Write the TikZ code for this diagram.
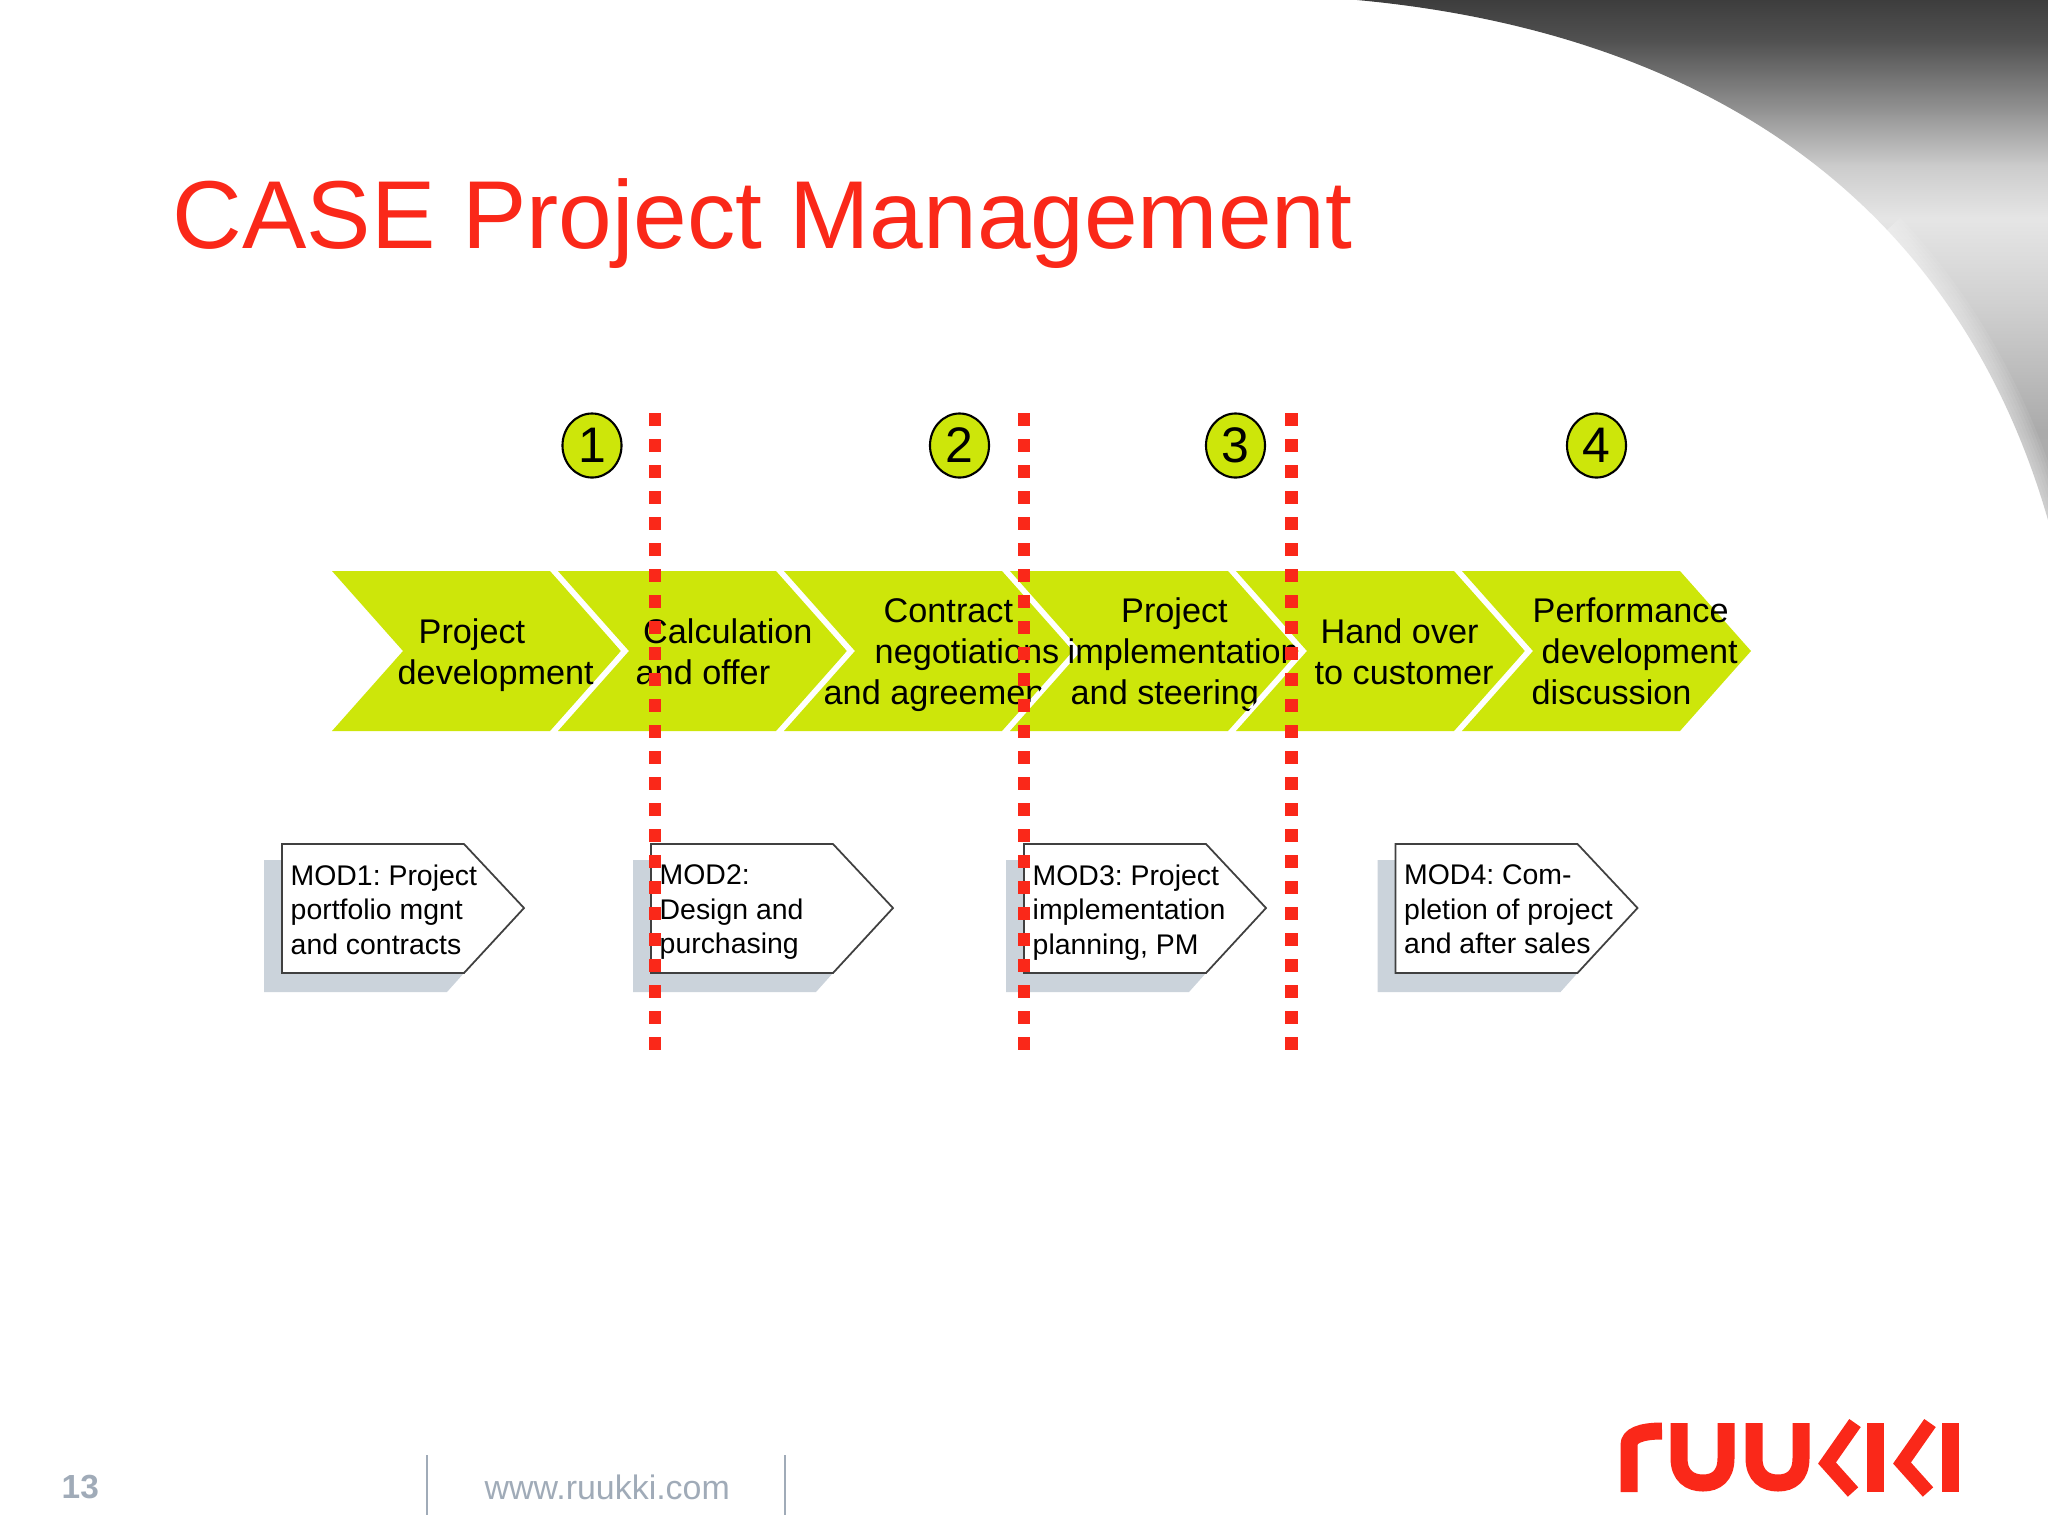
\documentclass[tikz,border=0pt]{standalone}
\usepackage{fontspec}
\setmainfont{Liberation Sans}
\usetikzlibrary{positioning,shapes.geometric}
\definecolor{limefill}{RGB}{205,230,10}
\definecolor{cutred}{RGB}{250,40,25}
\definecolor{shadowgrey}{RGB}{203,211,219}
\definecolor{footgrey}{RGB}{160,171,184}
\pgfdeclareverticalshading{swoosh}{100bp}{color(0bp)=(black!30);color(25bp)=(black!30);color(33.6bp)=(black!33);color(46bp)=(black!18);color(54bp)=(black!10);color(59bp)=(black!20);color(65bp)=(black!45);color(71bp)=(black!68);color(75bp)=(black!76);color(100bp)=(black!76)}
\frenchspacing
\begin{document}
\begin{tikzpicture}[x=0.01cm, y=-0.01cm]
        \tikzstyle{chevron} = [fill=limefill]
        \tikzstyle{chevron gap} = [draw=white, line width=0.06cm, line join=miter]
        \tikzstyle{chevron text} = [anchor=west, inner sep=0, align=left, font=\fontsize{9.73}{11.6}\selectfont, execute at begin node=\strut, execute at end node=\strut]
        \tikzstyle{gate} = [ellipse, draw=black, line width=0.6pt, fill=limefill, inner sep=0, minimum width=0.59cm, minimum height=0.64cm, font=\fontsize{14.2}{16}\selectfont]
        \tikzstyle{module} = [fill=white, draw=black!75, line width=0.5pt, line join=miter]
        \tikzstyle{module shadow} = [fill=shadowgrey]
        \tikzstyle{module text} = [anchor=west, inner sep=0, align=left, font=\fontsize{8.08}{9.8}\selectfont, execute at begin node=\strut, execute at end node=\strut]
        \tikzstyle{cut} = [cutred, line width=0.125cm, dash pattern=on 0.125cm off 0.135cm]
        \tikzstyle{foot text} = [anchor=base west, inner sep=0, text=footgrey, font=\fontsize{9.65}{11}\selectfont]
        \tikzstyle{foot line} = [footgrey, line width=0.6pt]
        \tikzstyle{logo} = [cutred, line width=0.17cm, line join=miter]

        \useasboundingbox (0, 0) rectangle (2048, 1536);
        \shade[shading=swoosh] (1357, 0) .. controls (1680, 30) and (1950, 180) .. (2048, 520) -- (2048, 0) -- cycle;
        \foreach \w in {0.06cm, 0.12cm, 0.18cm, 0.24cm, 0.3cm, 0.36cm}
            \draw[white, opacity=0.08, line width=\w] (1887, 230) .. controls (1958, 305) and (2014, 401) .. (2048, 520);

        \node[anchor=base west, inner sep=0, text=cutred, font=\fontsize{27.44}{30}\selectfont](title) at(172, 248) {CASE Project Management};

        \foreach \i/\x/\tx/\body in {
            1/332/397/{\hspace*{0.21cm}Project\\development},
            2/558/635/{\hspace*{0.075cm}Calculation\\and offer},
            3/784/823/{\hspace*{0.6cm}Contract\\\hspace*{0.51cm}negotiations\\and agreement},
            4/1010/1067/{\hspace*{0.535cm}Project\\implementation\\\hspace*{0.03cm}and steering},
            5/1236/1314/{\hspace*{0.06cm}Hand over\\to customer},
            6/1462/1531/{\hspace*{0.01cm}Performance\\\hspace*{0.1cm}development\\discussion}} {
            \draw[chevron gap] (\x-4, 566) -- (\x+71-4, 651) -- (\x-4, 736);
            \fill[chevron] (\x, 571) -- (\x+218, 571) -- (\x+289, 651) -- (\x+218, 731) -- (\x, 731) -- (\x+71, 651) -- cycle;
            \node[chevron text](step\i) at(\tx, 657.5) {\body};
        }

        \node[gate](gate1) at(592, 445.5) {1};
        \node[gate](gate2) at(959.5, 445.5) {2};
        \node[gate](gate3) at(1235.5, 445.5) {3};
        \node[gate](gate4) at(1596.5, 445.5) {4};

        \foreach \i/\x/\body in {
            1/282/{MOD1: Project\\portfolio mgnt\\and contracts},
            2/651/{MOD2:\\Design and\\purchasing},
            3/1024/{MOD3: Project\\implementation\\planning, PM},
            4/1395.5/{MOD4: Com-\\pletion of project\\and after sales}} {
            \fill[module shadow] (\x-18, 860) -- (\x+100, 860) -- (\x+100, 973) -- (\x+182, 973) -- (\x+165, 992) -- (\x-18, 992) -- cycle;
            \draw[module] (\x, 844) -- (\x+182, 844) -- (\x+242, 908) -- (\x+182, 973) -- (\x, 973) -- cycle;
            \node[module text](mod\i) at(\x+8, 914.5) {\body};
        }

        \foreach \i/\x in {1/655, 2/1024, 3/1291.5} {
            \coordinate (cut\i top) at(\x, 413);
            \coordinate (cut\i end) at(\x, 1050);
            \draw[cut] (cut\i top) -- (cut\i end);
        }

        \node[foot text, font=\fontsize{9.5}{11}\selectfont\bfseries](page) at(61, 1498) {13};
        \node[foot text](site) at(484, 1499) {www.ruukki.com};
        \draw[foot line] (427, 1455) -- (427, 1515);
        \draw[foot line] (785, 1455) -- (785, 1515);

        \draw[logo] (1629, 1492) -- (1629, 1445) .. controls (1629, 1436) and (1640, 1431) .. (1662, 1431);
        \draw[logo] (1679, 1423) -- (1679, 1458) .. controls (1679, 1476) and (1690, 1483) .. (1703, 1483) .. controls (1716, 1483) and (1726, 1476) .. (1726, 1458) -- (1726, 1423);
        \draw[logo] (1754, 1423) -- (1754, 1458) .. controls (1754, 1476) and (1765, 1483) .. (1778, 1483) .. controls (1791, 1483) and (1801, 1476) .. (1801, 1458) -- (1801, 1423);
        \draw[logo, line width=0.14cm] (1855, 1423) -- (1827, 1463) -- (1853, 1492);
        \draw[logo] (1875, 1423) -- (1875, 1492);
        \draw[logo, line width=0.14cm] (1930, 1423) -- (1902, 1463) -- (1928, 1492);
        \draw[logo] (1950, 1423) -- (1950, 1492);
    \end{tikzpicture}
\end{document}
